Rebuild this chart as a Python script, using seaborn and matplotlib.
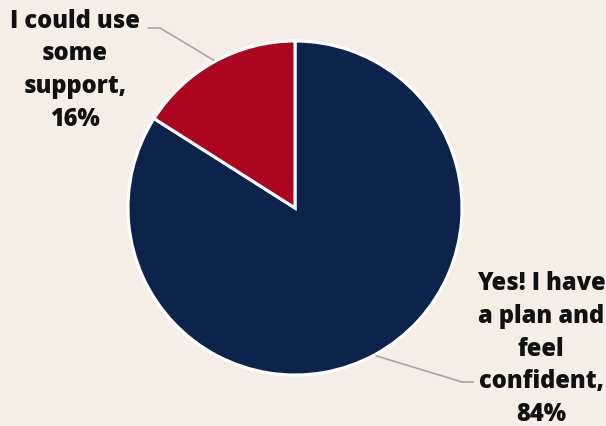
import numpy as np
import matplotlib
matplotlib.use("Agg")
import matplotlib.pyplot as plt
import seaborn as sns

# Chart data
labels = ["Yes! I have\na plan and\nfeel\nconfident,", "I could use\nsome\nsupport,"]
shares = [84, 16]
colors = ["#0C234B", "#AB0520"]

BG = "#F4EEE7"

sns.set_theme(style="white")
plt.rcParams['font.family'] = ['Open Sans', 'DejaVu Sans']

fig = plt.figure(figsize=(6.06, 4.26), dpi=100, facecolor=BG)
ax = fig.add_axes([0, 0, 1, 1])
ax.set_facecolor(BG)

# Pie (radius 1 in data units)
wedges, _ = ax.pie(
    shares,
    colors=colors,
    startangle=90,
    counterclock=False,
    radius=1.0,
    wedgeprops=dict(edgecolor="white", linewidth=2.2),
)

# place the pie: center at (295, 208) px, radius 167 px
r_px = 167.0
cx, cy = 295.0, 208.0
ax.set_xlim(-cx / r_px, (606 - cx) / r_px)
ax.set_ylim(-(426 - cy) / r_px, cy / r_px)
ax.set_aspect("equal", adjustable="datalim")
ax.axis("off")

# Labels with leader lines
label_xy = [(1.473, -0.845), (-1.317, 0.825)]
elbow_xy = [(1.0, -1.042), (-0.808, 1.078)]
end_xy = [(1.066, -1.042), (-0.880, 1.078)]

for w, lab, val, lxy, exy, nxy in zip(wedges, labels, shares, label_xy, elbow_xy, end_xy):
    ang = np.deg2rad((w.theta1 + w.theta2) / 2)
    sx, sy = np.cos(ang) * 1.01, np.sin(ang) * 1.01
    ax.plot([sx, exy[0], nxy[0]], [sy, exy[1], nxy[1]], color="#A6A6A6", lw=1.2)
    ax.text(lxy[0], lxy[1], f"{lab}\n{val}%", ha="center", va="center",
            fontsize=17, fontweight="heavy", color="#111111", linespacing=1.4)

fig.savefig("out.png", dpi=100, facecolor=BG)
